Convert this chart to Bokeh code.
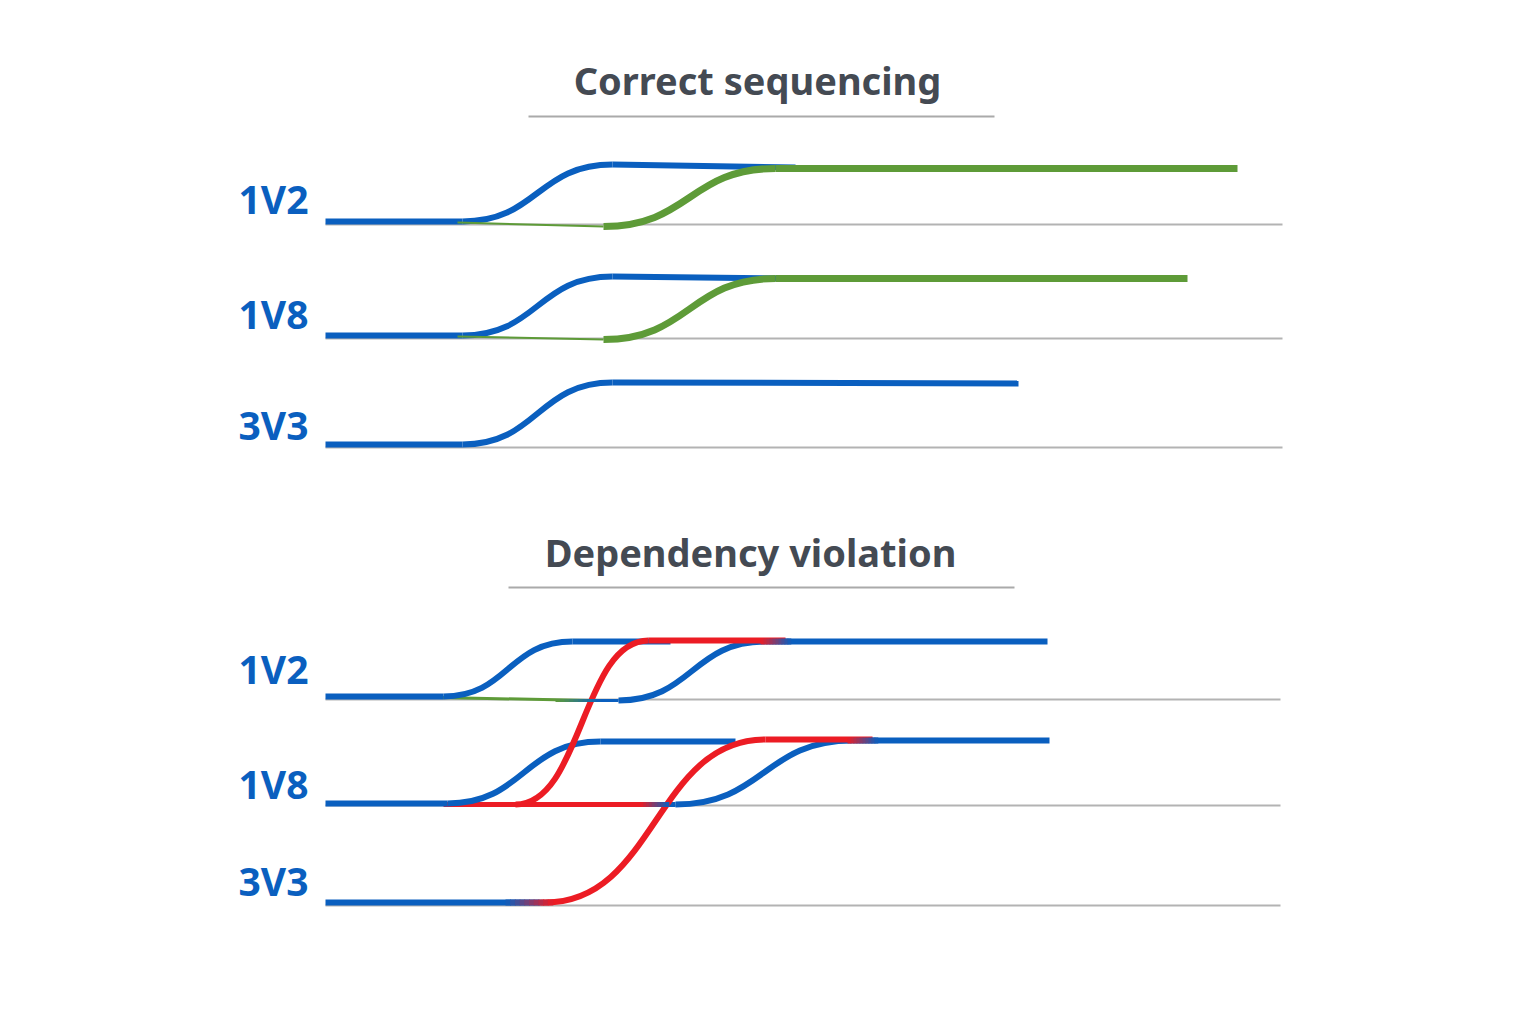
from bokeh.plotting import figure
from bokeh.models import Range1d
from bokeh.embed import file_html
from bokeh.resources import INLINE
from bokeh.core.properties import value

# ---------------- data ----------------
panel_titles = ["Correct sequencing", "Dependency violation"]
rail_names = ["1V2", "1V8", "3V3"]

# Correct sequencing panel: rail baselines (off level) and traces
top_base = [224, 338, 447]
# blue traces (one per rail): start, rise begin, rise end, end, low level, high level, end level
top_blue_t0 = [325, 325, 325]
top_blue_r0 = [462, 462, 462]
top_blue_r1 = [612, 612, 612]
top_blue_t1 = [795, 790, 1018]
top_blue_lo = [221, 335, 444]
top_blue_hi = [164, 276, 382]
top_blue_end = [167, 278, 383]
# green traces (1V2, 1V8)
top_green_t0 = [457, 457]
top_green_in = [222, 336]
top_green_r0 = [603, 603]
top_green_r1 = [775, 775]
top_green_t1 = [1237, 1187]
top_green_lo = [226, 339]
top_green_hi = [168, 278]

# Dependency violation panel
bot_base = [699, 805, 905]
# blue traces: 1V2 A, 1V2 B, 1V8 A, 1V8 B
bot_blue_t0 = [325, 585, 325, 650]
bot_blue_r0 = [443, 618, 447, 675]
bot_blue_r1 = [572, 765, 600, 852]
bot_blue_t1 = [670, 1047, 735, 1049]
bot_blue_lo = [696, 700, 803, 804]
bot_blue_hi = [641, 641, 741, 740]
bot_blue_inw = [6, 3, 6, 5]
# red traces: 1V8 -> 1V2, 3V3 -> 1V8
bot_red_t0 = [515, 540]
bot_red_r0 = [515, 545]
bot_red_r1 = [648, 765]
bot_red_t1 = [785, 872]
bot_red_lo = [804, 902]
bot_red_hi = [640, 739]
# 3V3 blue lead-in and red low on 1V8
bot_3v3_t0, bot_3v3_t1, bot_3v3_y = 325, 540, 902
bot_redlow_t0, bot_redlow_t1, bot_redlow_y = 443, 655, 804
# green thin on 1V2
bot_green_t0, bot_green_t1, bot_green_y0, bot_green_y1 = 440, 590, 697, 700

# ---------------- styles ----------------
BLUE = "#0a5fbf"
GREEN = "#5e9b38"
RED = "#ec1c24"
GRAY = "#b3b3b3"
TITLE = "#444a53"

p = figure(width=1520, height=1000, x_range=Range1d(0, 1520), y_range=Range1d(1000, 0),
           output_backend="svg", toolbar_location=None, min_border=0)
p.axis.visible = False
p.grid.visible = False
p.outline_line_color = None
p.background_fill_color = "white"


def steps(t0, r0, r1, t1, lo, hi, end=None, color=BLUE, width=6, inw=None):
    end = end if end is not None else hi
    inw = inw if inw is not None else [width] * len(t0)
    for a, b, c, d, l, h, e, w in zip(t0, r0, r1, t1, lo, hi, end, inw):
        if b > a:
            p.segment(x0=[a], y0=[l], x1=[b], y1=[l], line_color=color, line_width=w, line_cap="butt")
        k = 0.5 * (c - b)
        p.bezier(x0=[b], y0=[l], x1=[c], y1=[h], cx0=[b + k], cy0=[l], cx1=[c - k], cy1=[h],
                 line_color=color, line_width=width, line_cap="butt")
        p.segment(x0=[c], y0=[h], x1=[d], y1=[e], line_color=color, line_width=width, line_cap="butt")


def mix(c1, c2, f):
    a = [int(c1[i:i + 2], 16) for i in (1, 3, 5)]
    b = [int(c2[i:i + 2], 16) for i in (1, 3, 5)]
    return "#%02x%02x%02x" % tuple(int(round(x + (y - x) * f)) for x, y in zip(a, b))


def blend(xa, xb, y, c1, c2, width=6, n=10):
    xs = [xa + (xb - xa) * i / n for i in range(n + 1)]
    for i in range(n):
        p.segment(x0=[xs[i]], y0=[y], x1=[xs[i + 1] + 0.8], y1=[y],
                  line_color=mix(c1, c2, (i + 0.5) / n), line_width=width, line_cap="butt")


# titles and underlines
p.text(x=[757], y=[79], text=[panel_titles[0]], text_align="center", text_baseline="middle",
       text_font=value("Noto Sans"), text_font_style="bold", text_font_size="38px", text_color=TITLE)
p.segment(x0=[528], y0=[116], x1=[994], y1=[116], line_color="#aaaaaa", line_width=2)
p.text(x=[750], y=[551], text=[panel_titles[1]], text_align="center", text_baseline="middle",
       text_font=value("Noto Sans"), text_font_style="bold", text_font_size="38px", text_color=TITLE)
p.segment(x0=[508], y0=[587], x1=[1014], y1=[587], line_color="#aaaaaa", line_width=2)

# rail labels
top_label_y = [198, 313, 424]
bot_label_y = [668, 783, 880]
for ys in (top_label_y, bot_label_y):
    p.text(x=[238] * 3, y=ys, text=rail_names, text_align="left", text_baseline="middle",
           text_font=value("Noto Sans"), text_font_style="bold", text_font_size="39px",
           text_color=BLUE)

# baselines
p.segment(x0=[325] * 3, y0=top_base, x1=[1282] * 3, y1=top_base, line_color=GRAY, line_width=2)
p.segment(x0=[325] * 3, y0=bot_base, x1=[1280] * 3, y1=bot_base, line_color=GRAY, line_width=2)

# ---- correct sequencing ----
steps(top_blue_t0, top_blue_r0, top_blue_r1, top_blue_t1, top_blue_lo, top_blue_hi, top_blue_end,
      color=BLUE, width=6)
p.segment(x0=top_green_t0, y0=top_green_in, x1=top_green_r0, y1=top_green_lo,
          line_color=GREEN, line_width=2)
steps(top_green_r0, top_green_r0, top_green_r1, top_green_t1, top_green_lo, top_green_hi,
      color=GREEN, width=7)

# ---- dependency violation ----
p.segment(x0=[bot_green_t0], y0=[bot_green_y0], x1=[bot_green_t1], y1=[bot_green_y1],
          line_color=GREEN, line_width=3)
p.segment(x0=[bot_redlow_t0], y0=[bot_redlow_y], x1=[bot_redlow_t1], y1=[bot_redlow_y],
          line_color=RED, line_width=5, line_cap="butt")
steps(bot_blue_t0, bot_blue_r0, bot_blue_r1, bot_blue_t1, bot_blue_lo, bot_blue_hi,
      color=BLUE, width=6, inw=bot_blue_inw)
p.segment(x0=[bot_3v3_t0], y0=[bot_3v3_y], x1=[bot_3v3_t1], y1=[bot_3v3_y], line_color=BLUE,
          line_width=6, line_cap="butt")
steps(bot_red_t0, bot_red_r0, bot_red_r1, bot_red_t1, bot_red_lo, bot_red_hi,
      color=RED, width=6)
# colour transitions
blend(505, 552, bot_3v3_y, BLUE, RED)
blend(640, 668, bot_redlow_y, RED, BLUE, width=5)
blend(bot_red_t1[0] - 25, bot_red_t1[0] + 5, bot_red_hi[0] + 1, RED, BLUE)
blend(bot_red_t1[1] - 25, bot_red_t1[1] + 5, bot_red_hi[1] + 1, RED, BLUE)
blend(555, 600, bot_green_y1, GREEN, BLUE, width=3)

open("out.html", "w").write(file_html(p, INLINE))
